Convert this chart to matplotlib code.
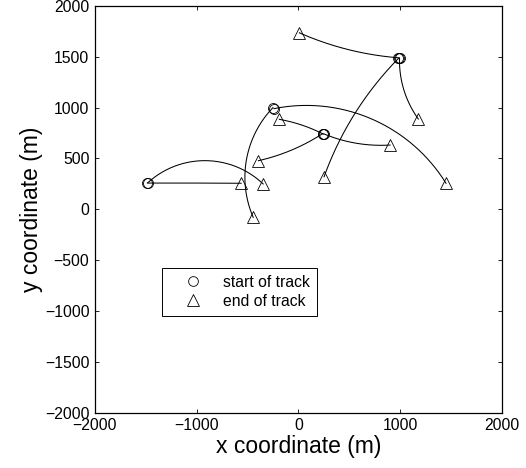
import numpy as np
import matplotlib

matplotlib.use("Agg")
import matplotlib.pyplot as plt
from matplotlib.lines import Line2D

plt.rcParams["font.family"] = ["Liberation Sans", "DejaVu Sans"]

# track geometry (m): start, a point near the middle, end
start_x = [-1485, -1480, -250, -240, 245, 240, 250, 990, 985, 995]
start_y = [258, 262, 1000, 990, 740, 745, 742, 1490, 1485, 1488]
mid_x = [-1025, -950, -524, 574, 33, -82, 574, 541, 557, 1049]
mid_y = [258, 478, 256, 944, 829, 576, 649, 1559, 944, 1140]
end_x = [-563, -346, -444, 1452, -187, -393, 902, 10, 253, 1180]
end_y = [256, 249, -79, 256, 885, 478, 632, 1736, 320, 888]

ticks = [-2000, -1000, 0, 1000, 2000]
yticks = [-2000, -1500, -1000, -500, 0, 500, 1000, 1500, 2000]


def arc_through(p0, p1, p2, n=200):
    (x0, y0), (x1, y1), (x2, y2) = p0, p1, p2
    d = 2 * (x0 * (y1 - y2) + x1 * (y2 - y0) + x2 * (y0 - y1))
    if abs(d) < 1e-6 * max(1.0, (x2 - x0) ** 2 + (y2 - y0) ** 2):
        return np.array([x0, x2]), np.array([y0, y2])
    s0, s1, s2 = x0**2 + y0**2, x1**2 + y1**2, x2**2 + y2**2
    cx = (s0 * (y1 - y2) + s1 * (y2 - y0) + s2 * (y0 - y1)) / d
    cy = (s0 * (x2 - x1) + s1 * (x0 - x2) + s2 * (x1 - x0)) / d
    r = np.hypot(x0 - cx, y0 - cy)
    a0 = np.arctan2(y0 - cy, x0 - cx)
    a1 = np.arctan2(y1 - cy, x1 - cx)
    a2 = np.arctan2(y2 - cy, x2 - cx)
    sweep = (a2 - a0) % (2 * np.pi)
    if (a1 - a0) % (2 * np.pi) > sweep:
        sweep -= 2 * np.pi
    a = a0 + np.linspace(0, sweep, n)
    return cx + r * np.cos(a), cy + r * np.sin(a)


fig = plt.figure(figsize=(5.26, 4.68), dpi=100)
ax = fig.add_axes([0.1806, 0.1184, 0.7732, 0.8688])

for i in range(len(start_x)):
    xs, ys = arc_through((start_x[i], start_y[i]), (mid_x[i], mid_y[i]), (end_x[i], end_y[i]))
    ax.plot(xs, ys, color="black", linewidth=0.75)
ax.plot(start_x, start_y, linestyle="none", marker="o", markersize=7.2,
        markerfacecolor="none", markeredgecolor="black", markeredgewidth=0.6)
ax.plot(end_x, end_y, linestyle="none", marker="^", markersize=8.5,
        markerfacecolor="none", markeredgecolor="black", markeredgewidth=0.6)

ax.set_xlim(-2000, 2000)
ax.set_ylim(-2000, 2000)
ax.set_xticks(ticks)
ax.set_yticks(yticks)
ax.tick_params(direction="in", length=3, width=0.6, top=True, right=True,
               labelsize=11.3, pad=4)
for sp in ax.spines.values():
    sp.set_linewidth(0.9)
ax.set_xlabel("x coordinate (m)", fontsize=16.5, labelpad=1)
ax.set_ylabel("y coordinate (m)", fontsize=16.5, labelpad=1)

handles = [
    Line2D([], [], linestyle="none", marker="o", markersize=7, markerfacecolor="none",
           markeredgecolor="black", markeredgewidth=0.6),
    Line2D([], [], linestyle="none", marker="^", markersize=8, markerfacecolor="none",
           markeredgecolor="black", markeredgewidth=0.6),
]
leg = ax.legend(handles, ["start of track", "end of track"], loc="upper left",
                bbox_to_anchor=(0.164, 0.356), borderaxespad=0, fontsize=11.3,
                fancybox=False, edgecolor="black", framealpha=1, borderpad=0.45,
                handlelength=3.1, handletextpad=0.35, labelspacing=0.25)
leg.get_frame().set_linewidth(0.7)

fig.savefig("out.png", dpi=100)
